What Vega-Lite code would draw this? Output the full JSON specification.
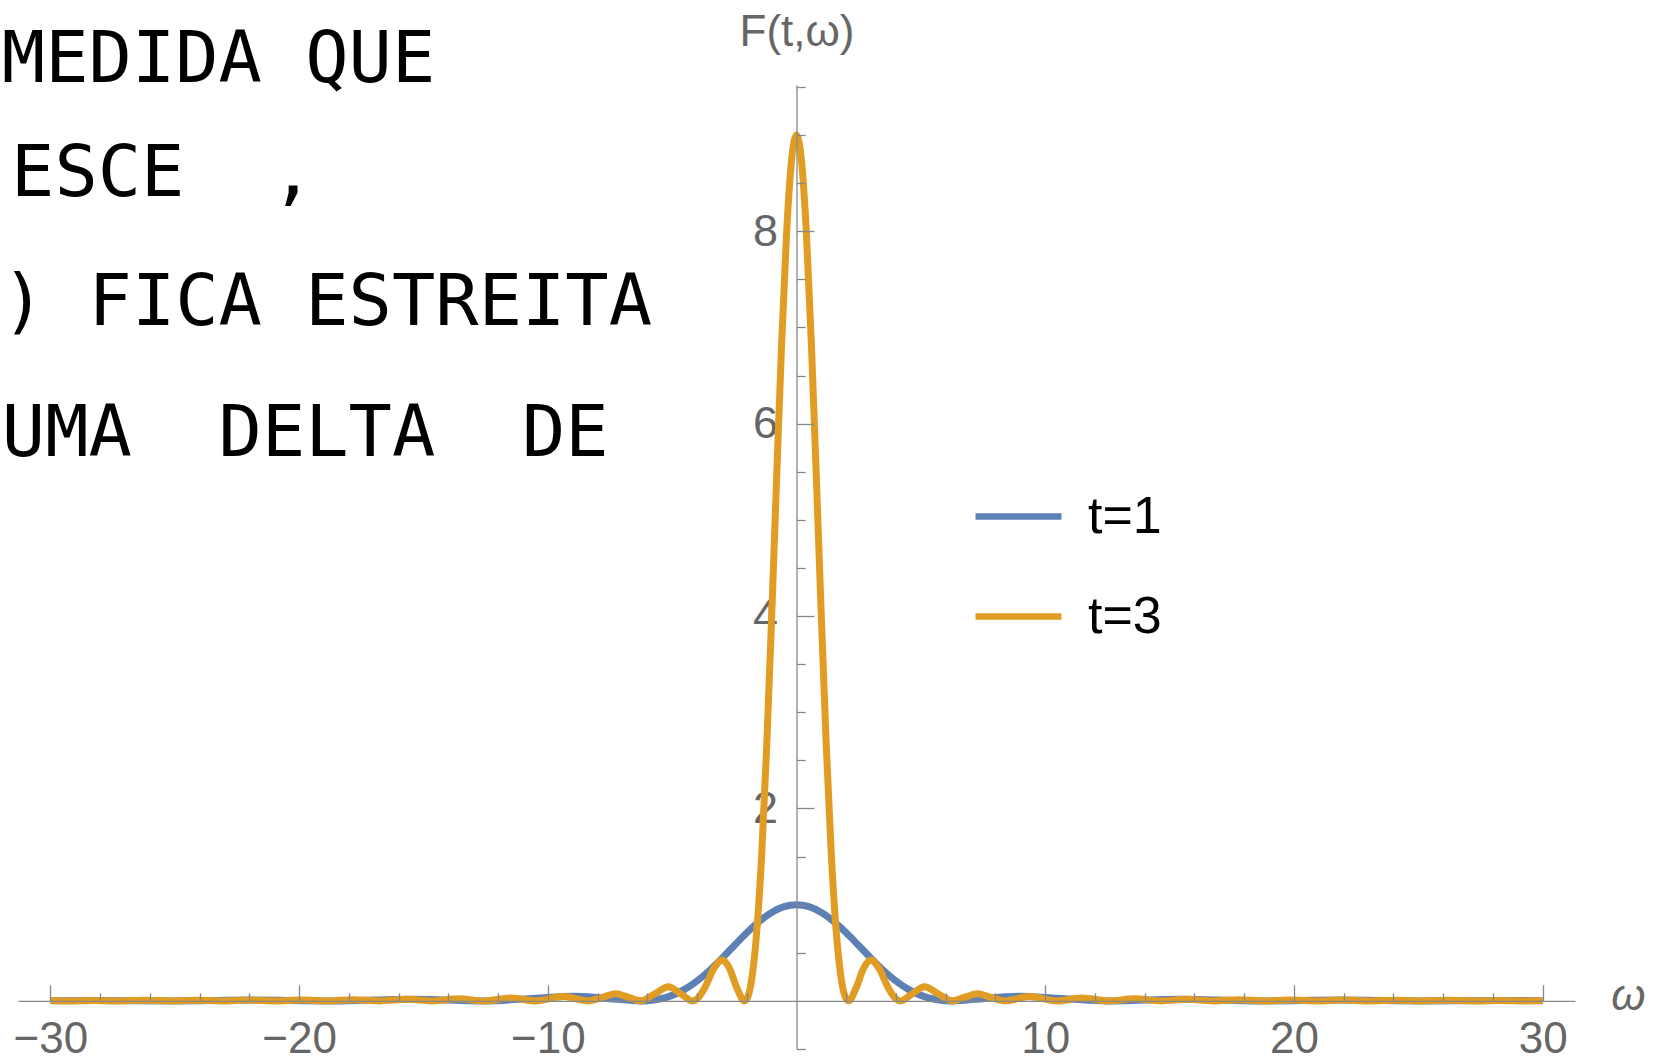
{
  "$schema": "https://vega.github.io/schema/vega-lite/v6.json",
  "width": 1557,
  "height": 964,
  "autosize": {"type": "none"},
  "padding": {"left": 18, "top": 85, "right": 84, "bottom": 12},
  "background": "white",
  "config": {
    "view": {"stroke": null},
    "axis": {"grid": false, "labelFont": "Liberation Sans", "titleFont": "Liberation Sans"}
  },
  "datasets": {
    "curves": [
      {"t":"t=1","w":-30,"F":0.0019},{"t":"t=1","w":-28.132,"F":0.005},{"t":"t=1","w":-25.133,"F":0},{"t":"t=1","w":-21.808,"F":0.0083},{"t":"t=1","w":-18.85,"F":0},{"t":"t=1","w":-17,"F":0.0088},{"t":"t=1","w":-15.451,"F":0.0165},{"t":"t=1","w":-14,"F":0.0088},{"t":"t=1","w":-12.566,"F":0},{"t":"t=1","w":-10.5,"F":0.0268},{"t":"t=1","w":-8.987,"F":0.0472},{"t":"t=1","w":-7.5,"F":0.0232},{"t":"t=1","w":-6.283,"F":0},{"t":"t=1","w":-6,"F":0.0022},{"t":"t=1","w":-5.5,"F":0.0193},{"t":"t=1","w":-5,"F":0.0573},{"t":"t=1","w":-4.5,"F":0.1196},{"t":"t=1","w":-4,"F":0.2067},{"t":"t=1","w":-3.5,"F":0.3162},{"t":"t=1","w":-3,"F":0.4422},{"t":"t=1","w":-2.5,"F":0.5764},{"t":"t=1","w":-2,"F":0.7081},{"t":"t=1","w":-1.5,"F":0.826},{"t":"t=1","w":-1,"F":0.9194},{"t":"t=1","w":-0.5,"F":0.9793},
      {"t":"t=1","w":0,"F":1},
      {"t":"t=1","w":0.5,"F":0.9793},{"t":"t=1","w":1,"F":0.9194},{"t":"t=1","w":1.5,"F":0.826},{"t":"t=1","w":2,"F":0.7081},{"t":"t=1","w":2.5,"F":0.5764},{"t":"t=1","w":3,"F":0.4422},{"t":"t=1","w":3.5,"F":0.3162},{"t":"t=1","w":4,"F":0.2067},{"t":"t=1","w":4.5,"F":0.1196},{"t":"t=1","w":5,"F":0.0573},{"t":"t=1","w":5.5,"F":0.0193},{"t":"t=1","w":6,"F":0.0022},{"t":"t=1","w":6.283,"F":0},{"t":"t=1","w":7.5,"F":0.0232},{"t":"t=1","w":8.987,"F":0.0472},{"t":"t=1","w":10.5,"F":0.0268},{"t":"t=1","w":12.566,"F":0},{"t":"t=1","w":14,"F":0.0088},{"t":"t=1","w":15.451,"F":0.0165},{"t":"t=1","w":17,"F":0.0088},{"t":"t=1","w":18.85,"F":0},{"t":"t=1","w":21.808,"F":0.0083},{"t":"t=1","w":25.133,"F":0},{"t":"t=1","w":28.132,"F":0.005},{"t":"t=1","w":30,"F":0.0019},

      {"t":"t=3","w":-30,"F":0.0032},{"t":"t=3","w":-29.322,"F":0},{"t":"t=3","w":-28.27,"F":0.005},{"t":"t=3","w":-27.227,"F":0},{"t":"t=3","w":-26.18,"F":0.0058},{"t":"t=3","w":-25.133,"F":0},{"t":"t=3","w":-24.08,"F":0.0069},{"t":"t=3","w":-23.038,"F":0},{"t":"t=3","w":-21.99,"F":0.0083},{"t":"t=3","w":-20.944,"F":0},{"t":"t=3","w":-19.89,"F":0.0101},{"t":"t=3","w":-18.85,"F":0},{"t":"t=3","w":-17.8,"F":0.0126},{"t":"t=3","w":-16.755,"F":0},{"t":"t=3","w":-15.68,"F":0.0162},{"t":"t=3","w":-14.661,"F":0},{"t":"t=3","w":-13.581,"F":0.0216},{"t":"t=3","w":-12.566,"F":0},{"t":"t=3","w":-11.481,"F":0.0303},{"t":"t=3","w":-10.472,"F":0},{"t":"t=3","w":-9.377,"F":0.0453},{"t":"t=3","w":-8.378,"F":0},{"t":"t=3","w":-7.85,"F":0.0329},{"t":"t=3","w":-7.269,"F":0.0751},{"t":"t=3","w":-6.75,"F":0.0364},{"t":"t=3","w":-6.283,"F":0},{"t":"t=3","w":-5.7,"F":0.0725},{"t":"t=3","w":-5.15,"F":0.1483},{"t":"t=3","w":-4.6,"F":0.0633},{"t":"t=3","w":-4.189,"F":0},{"t":"t=3","w":-4,"F":0.0195},{"t":"t=3","w":-3.7,"F":0.131},{"t":"t=3","w":-3.3,"F":0.347},{"t":"t=3","w":-2.996,"F":0.4247},{"t":"t=3","w":-2.7,"F":0.341},{"t":"t=3","w":-2.4,"F":0.136},{"t":"t=3","w":-2.094,"F":0},{"t":"t=3","w":-2,"F":0.0199},{"t":"t=3","w":-1.8,"F":0.2255},{"t":"t=3","w":-1.6,"F":0.713},{"t":"t=3","w":-1.4,"F":1.521},{"t":"t=3","w":-1.2,"F":2.634},{"t":"t=3","w":-1,"F":3.98},{"t":"t=3","w":-0.8,"F":5.429},{"t":"t=3","w":-0.6,"F":6.818},{"t":"t=3","w":-0.4,"F":7.971},{"t":"t=3","w":-0.2,"F":8.733},
      {"t":"t=3","w":0,"F":9},
      {"t":"t=3","w":0.2,"F":8.733},{"t":"t=3","w":0.4,"F":7.971},{"t":"t=3","w":0.6,"F":6.818},{"t":"t=3","w":0.8,"F":5.429},{"t":"t=3","w":1,"F":3.98},{"t":"t=3","w":1.2,"F":2.634},{"t":"t=3","w":1.4,"F":1.521},{"t":"t=3","w":1.6,"F":0.713},{"t":"t=3","w":1.8,"F":0.2255},{"t":"t=3","w":2,"F":0.0199},{"t":"t=3","w":2.094,"F":0},{"t":"t=3","w":2.4,"F":0.136},{"t":"t=3","w":2.7,"F":0.341},{"t":"t=3","w":2.996,"F":0.4247},{"t":"t=3","w":3.3,"F":0.347},{"t":"t=3","w":3.7,"F":0.131},{"t":"t=3","w":4,"F":0.0195},{"t":"t=3","w":4.189,"F":0},{"t":"t=3","w":4.6,"F":0.0633},{"t":"t=3","w":5.15,"F":0.1483},{"t":"t=3","w":5.7,"F":0.0725},{"t":"t=3","w":6.283,"F":0},{"t":"t=3","w":6.75,"F":0.0364},{"t":"t=3","w":7.269,"F":0.0751},{"t":"t=3","w":7.85,"F":0.0329},{"t":"t=3","w":8.378,"F":0},{"t":"t=3","w":9.377,"F":0.0453},{"t":"t=3","w":10.472,"F":0},{"t":"t=3","w":11.481,"F":0.0303},{"t":"t=3","w":12.566,"F":0},{"t":"t=3","w":13.581,"F":0.0216},{"t":"t=3","w":14.661,"F":0},{"t":"t=3","w":15.68,"F":0.0162},{"t":"t=3","w":16.755,"F":0},{"t":"t=3","w":17.8,"F":0.0126},{"t":"t=3","w":18.85,"F":0},{"t":"t=3","w":19.89,"F":0.0101},{"t":"t=3","w":20.944,"F":0},{"t":"t=3","w":21.99,"F":0.0083},{"t":"t=3","w":23.038,"F":0},{"t":"t=3","w":24.08,"F":0.0069},{"t":"t=3","w":25.133,"F":0},{"t":"t=3","w":26.18,"F":0.0058},{"t":"t=3","w":27.227,"F":0},{"t":"t=3","w":28.27,"F":0.005},{"t":"t=3","w":29.322,"F":0},{"t":"t=3","w":30,"F":0.0032}
    ],
    "notes": [
      {"x": -31.95, "y": 9.78, "label": "MEDIDA QUE"},
      {"x": -31.58, "y": 8.6, "label": "ESCE\u00a0\u00a0,"},
      {"x": -31.95, "y": 7.25, "label": ") FICA ESTREITA"},
      {"x": -31.95, "y": 5.89, "label": "UMA\u00a0\u00a0DELTA\u00a0\u00a0DE"}
    ]
  },
  "layer": [
    {
      "data": {"name": "curves"},
      "mark": {"type": "point", "opacity": 0},
      "encoding": {
        "x": {"field": "w", "type": "quantitative",
          "scale": {"domain": [-31.3, 31.3], "nice": false, "zero": false},
          "axis": {"orient": "top", "offset": -915.8, "values": [-28,-26,-24,-22,-18,-16,-14,-12,-8,-6,-4,-2,2,4,6,8,12,14,16,18,22,24,26,28],
            "tickSize": 8, "tickWidth": 1.3, "tickColor": "#888888", "domain": false, "labels": false, "title": null, "zindex": 1}},
        "y": {"field": "F", "type": "quantitative",
          "scale": {"domain": [-0.5, 9.52], "nice": false, "zero": false},
          "axis": {"orient": "right", "offset": -778.5, "values": [-0.5,0.5,1,1.5,2.5,3,3.5,4.5,5,5.5,6.5,7,7.5,8.5,9,9.5],
            "tickSize": 8.7, "tickWidth": 1.3, "tickColor": "#888888", "domain": false, "labels": false, "title": null, "zindex": 1}}
      }
    },
    {
      "data": {"name": "curves"},
      "mark": {"type": "line", "interpolate": "monotone", "strokeWidth": 7},
      "encoding": {
        "x": {"field": "w", "type": "quantitative",
          "axis": {"orient": "top", "offset": -915.8, "values": [-30,-20,-10,10,20,30],
            "tickSize": 16, "tickWidth": 1.3, "tickColor": "#888888", "domain": true, "domainColor": "#888888", "domainWidth": 1.3, "labels": false, "title": null, "zindex": 1}},
        "y": {"field": "F", "type": "quantitative",
          "axis": {"orient": "right", "offset": -778.5, "values": [2,4,6,8],
            "tickSize": 17.5, "tickWidth": 1.3, "tickColor": "#888888", "domain": true, "domainColor": "#888888", "domainWidth": 1.3, "labels": false, "title": null, "zindex": 1}},
        "color": {"field": "t", "type": "nominal",
          "scale": {"domain": ["t=1", "t=3"], "range": ["#5E81B5", "#E19C24"]},
          "legend": {"orient": "none", "legendX": 954, "legendY": 385, "title": null, "padding": 0,
            "symbolType": "stroke", "symbolSize": 7396, "symbolStrokeWidth": 6.5, "symbolOpacity": 1,
            "labelFont": "Liberation Sans", "labelFontSize": 52, "labelColor": "#000000", "labelOffset": 23, "rowPadding": 27}}
      }
    },
    {
      "data": {"name": "notes"},
      "mark": {"type": "text", "font": "DejaVu Sans Mono", "fontSize": 72, "align": "left", "baseline": "middle", "color": "#000000"},
      "encoding": {
        "x": {"field": "x", "type": "quantitative",
          "axis": {"orient": "bottom", "offset": -48.2, "values": [-30,-20,-10,10,20,30],
            "ticks": false, "tickSize": 0, "domain": false, "labelPadding": 17, "labelFontSize": 44, "labelColor": "#666666",
            "labelBaseline": "top", "labelFlush": false, "labelOverlap": false,
            "title": "ω", "titleX": 1610, "titleY": -4, "titleAlign": "center", "titleBaseline": "middle",
            "titleFontSize": 44, "titleFontStyle": "italic", "titleFontWeight": "normal", "titleColor": "#666666"}},
        "y": {"field": "y", "type": "quantitative",
          "axis": {"orient": "left", "offset": -778.5, "values": [2,4,6,8],
            "ticks": false, "tickSize": 0, "domain": false, "labelPadding": 19, "labelFontSize": 45, "labelColor": "#666666",
            "labelFlush": false, "labelOverlap": false,
            "title": "F(t,ω)", "titleAngle": 0, "titleX": 0, "titleY": -53, "titleAlign": "center", "titleBaseline": "middle",
            "titleFontSize": 44, "titleFontWeight": "normal", "titleColor": "#666666"}},
        "text": {"field": "label"}
      }
    }
  ],
  "resolve": {"axis": {"x": "independent", "y": "independent"}}
}
